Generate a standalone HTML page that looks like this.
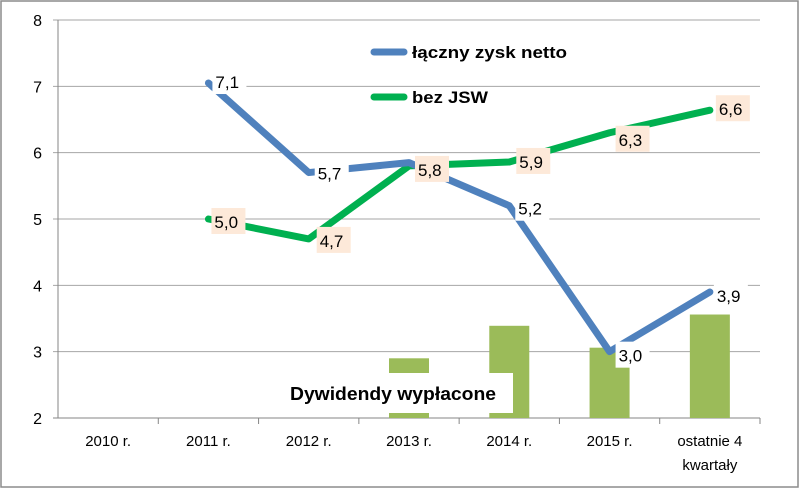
<!DOCTYPE html>
<html><head><meta charset="utf-8"><style>
body{margin:0;background:#fff}
svg{display:block;font-family:"Liberation Sans",sans-serif}
</style></head><body>
<svg width="800" height="489" viewBox="0 0 800 489">
<rect x="1" y="1" width="797" height="486" fill="#fff" stroke="#8c8c8c" stroke-width="1.5"/>
<g id="grid"></g><g id="axes"></g><g id="bars"></g><g id="lines"></g><g id="labels"></g>
<g>
<line x1="374" y1="52" x2="404" y2="52" stroke="#4f81bd" stroke-width="7" stroke-linecap="round"/>
<text x="412" y="58" font-size="17" font-weight="bold" fill="#000" textLength="155" lengthAdjust="spacingAndGlyphs">łączny zysk netto</text>
<line x1="374" y1="97" x2="404" y2="97" stroke="#00b050" stroke-width="7" stroke-linecap="round"/>
<text x="412" y="103" font-size="17" font-weight="bold" fill="#000" textLength="76" lengthAdjust="spacingAndGlyphs">bez JSW</text>
</g>
<rect x="286" y="373" width="227" height="40" fill="#fff"/>
<text x="290" y="400" font-size="18" font-weight="bold" fill="#000" textLength="206" lengthAdjust="spacingAndGlyphs">Dywidendy wypłacone</text>
</svg>
<script>
const categories=["2010 r.","2011 r.","2012 r.","2013 r.","2014 r.","2015 r.","ostatnie 4|kwartały"];
const totalNet=[null,7.05,5.7,5.85,5.2,3.0,3.9];
const totalNetLabels=[null,"7,1","5,7","","5,2","3,0","3,9"];
const withoutJsw=[null,5.0,4.7,5.8,5.86,6.3,6.64];
const withoutJswLabels=[null,"5,0","4,7","5,8","5,9","6,3","6,6"];
const dividends=[null,null,null,2.9,3.39,3.06,3.56];
const yTicks=[2,3,4,5,6,7,8];

const NS="http://www.w3.org/2000/svg";
const L=58,R=760,T=20,B=418,ymin=2,ymax=8;
const cw=(R-L)/categories.length;
const xc=i=>L+cw*(i+0.5);
const y=v=>B-(v-ymin)/(ymax-ymin)*(B-T);
function mk(tag,attrs,parent,txt){const e=document.createElementNS(NS,tag);for(const k in attrs)e.setAttribute(k,attrs[k]);if(txt!=null)e.textContent=txt;parent.appendChild(e);return e;}
const grid=document.getElementById('grid'),axes=document.getElementById('axes'),bars=document.getElementById('bars'),lines=document.getElementById('lines'),labels=document.getElementById('labels');
yTicks.forEach(t=>{
  const g=mk('line',{x1:L-5,x2:R,y1:y(t),y2:y(t),stroke:t===ymin?'#868686':'#a6a6a6','stroke-width':1},grid);
  
  
  const tx=mk('text',{x:L-16,y:y(t)+6,'font-size':16,'text-anchor':'end',fill:'#000'},axes,String(t));
  
  
});
const ax=mk('line',{x1:L,x2:L,y1:T,y2:B,stroke:'#868686'},axes);


categories.forEach((c,i)=>{
  const tk=mk('line',{x1:L+cw*(i+1),x2:L+cw*(i+1),y1:B,y2:B+6,stroke:'#868686'},axes);
  
  
  const parts=c.split('|');
  parts.forEach((p,j)=>{
    const t=mk('text',{x:xc(i),y:B+28+j*24,'font-size':15,'text-anchor':'middle',fill:'#000'},axes,p);
    
    
  });
});
dividends.forEach((v,i)=>{
  if(v==null)return;
  const r=mk('rect',{x:xc(i)-20,y:y(v),width:40,height:B-y(v),fill:'#9bbb59'},bars);
  
  
});
function series(data,color,name){
  const pts=data.map((v,i)=>v==null?null:xc(i)+','+y(v)).filter(Boolean).join(' ');
  const p=mk('polyline',{points:pts,fill:'none',stroke:color,'stroke-width':7,'stroke-linecap':'round','stroke-linejoin':'round'},lines);
  
  
}
series(withoutJsw,'#00b050','line-without-jsw');
series(totalNet,'#4f81bd','line-total-net-profit');
function lbl(data,texts,bg,name,offs){
  data.forEach((v,i)=>{
    if(v==null||!texts[i])return;
    const o=offs[i]||[6,0];
    const bx=xc(i)+o[0],by=y(v)+o[1]-13;
    const r=mk('rect',{x:bx,y:by,width:34,height:26,fill:bg},labels);
    
    
    const t=mk('text',{x:bx+3,y:by+20,'font-size':17,fill:'#000'},labels,texts[i]);
    
    
  });
}
lbl(withoutJsw,withoutJswLabels,'#fde9d9','without-jsw',[null,[3,2],[8,1],[6,3],[7,-1],[6,6],[6,-2]]);
lbl(totalNet,totalNetLabels,'#fff','total-net-profit',[null,[4,-2],[6,0],null,[6,2],[6,3],[4,3]]);
</script>
</body></html>
